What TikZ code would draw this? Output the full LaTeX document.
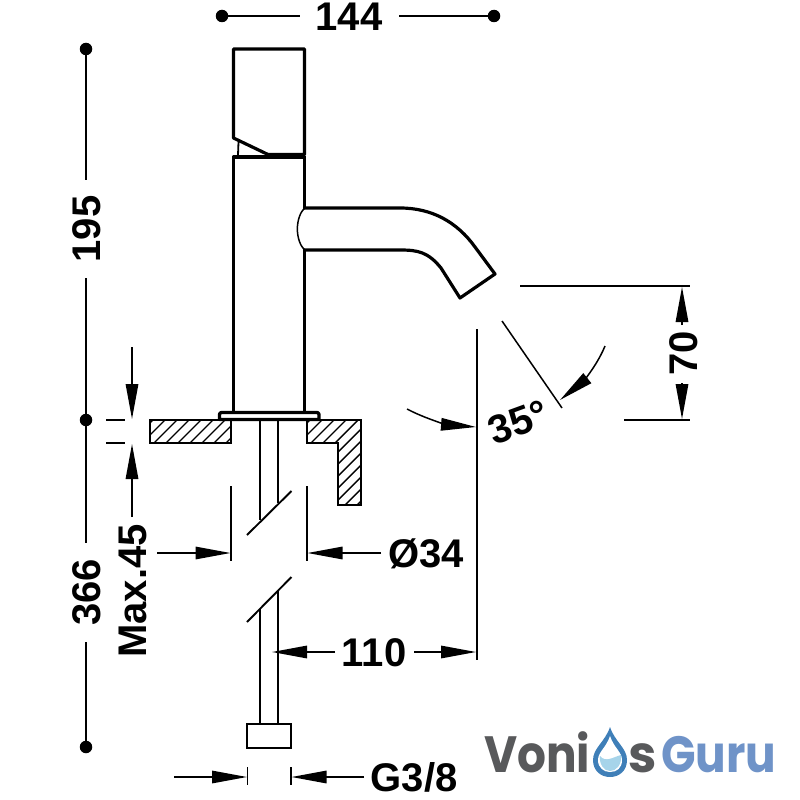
\documentclass[tikz,border=0pt]{standalone}
\usepackage{fontspec}
\setmainfont{Liberation Sans}
\newfontfamily\logofont{Poppins}
\usetikzlibrary{arrows.meta}
\definecolor{logogrey}{HTML}{58595B}
\definecolor{logoblue}{HTML}{6F93C8}
\definecolor{dropblue}{HTML}{3F7FB8}
\definecolor{dropcyan}{HTML}{A6D4EA}
\tikzset{
  x=1pt,y=-1pt,
  heavy/.style={line width=3.2pt,line cap=round,line join=round},
  thin part/.style={line width=1.9pt},
  dimline/.style={line width=1.5pt},
  dimarrow/.style={line width=1.5pt,-{Triangle[length=35pt,width=12.5pt]}},
  dimlabel/.style={font=\bfseries\fontsize{40}{40}\selectfont,inner sep=0pt},
  enddot/.style={circle,fill=black,inner sep=0pt,minimum size=12.5pt},
  outline/.style={draw=black,line width=1.7pt},
  hatchline/.style={line width=1.4pt},
  logotext/.style={inner sep=0pt,anchor=base west,xscale=.89,font=\logofont\bfseries\fontsize{51}{51}\selectfont},
}
\begin{document}
\begin{tikzpicture}
\useasboundingbox (0,0) rectangle (800,800);
% handle
\draw[heavy] (233.5,138) -- (233.5,49) -- (304.5,49) -- (304.5,154.5) -- (268,154.5) -- cycle;
\draw[line width=1.8pt] (238.5,142) -- (238,155);
% body
\draw[heavy] (233.5,412) -- (233.5,157) -- (304.5,157) -- (304.5,208);
\draw[heavy] (304.5,250) -- (304.5,412);
% spout
\draw[heavy] (304.5,208) -- (400,208) .. controls (432,208) and (457,222) .. (475,247) -- (495,274) -- (460,298) -- (441,268) .. controls (428,252) and (418,250) .. (400,250) -- (304.5,250);
\draw[line width=1.5pt] (304.5,208) .. controls (295,218) and (295,240) .. (304.5,250);
% counter
\begin{scope}
\clip (150,420) rectangle (231,443);
\foreach \u in {130,142,...,238} \draw[hatchline] (\u,443) -- (\u+40,403);
\end{scope}
\draw[outline] (150,420) rectangle (231,443);
\begin{scope}
\clip (307,420) -- (361,420) -- (361,505) -- (338,505) -- (338,443) -- (307,443) -- cycle;
\foreach \u in {220,232,...,364} \draw[hatchline] (\u,510) -- (\u+120,390);
\end{scope}
\draw[outline] (307,420) -- (361,420) -- (361,505) -- (338,505) -- (338,443) -- (307,443) -- cycle;
% flange
\draw[heavy,fill=white] (219.5,419.5) -- (219.5,414) -- (221,412.5) -- (317.5,412.5) -- (319,414) -- (319,419.5) -- cycle;
% pipe
\draw[thin part] (260,421) -- (260,520);
\draw[thin part] (278,421) -- (278,503);
\draw[thin part] (247,535) -- (291.5,491);
\draw[thin part] (291.5,577) -- (247,622);
\draw[thin part] (260,609) -- (260,724);
\draw[thin part] (278,591) -- (278,724);
\draw[thin part] (247,724) rectangle (291,748);
% top dimension 144
\node[enddot] (t1) at (222,16) {};
\node[enddot] (t2) at (494,16) {};
\node[dimlabel] (t144) at (349,17) {144};
\draw[dimline] (t1) -- (300,16);
\draw[dimline] (t2) -- (399,16);
% left dimension
\node[enddot] (l1) at (86,49) {};
\node[enddot] (l2) at (86,420) {};
\node[enddot] (l3) at (86,747) {};
\node[dimlabel,rotate=90] (l195) at (87,229) {195};
\node[dimlabel,rotate=90] (l366) at (87,592.5) {366};
\draw[dimline] (l1) -- (86,180);
\draw[dimline] (86,278) -- (l2);
\draw[dimline] (l2) -- (86,543);
\draw[dimline] (86,642) -- (l3);
% max 45
\coordinate (m1) at (132,347);
\coordinate (m2) at (132,419);
\coordinate (m3) at (132,517);
\coordinate (m4) at (132,444);
\draw[dimarrow] (m1) -- (m2);
\draw[dimarrow] (m3) -- (m4);
\draw[dimline] (106,420) -- (125,420);
\draw[dimline] (106,443) -- (125,443);
\node[dimlabel,rotate=90] (mx) at (132.5,591) {Max.45};
% dia 34
\draw[dimline] (231,486) -- (231,561);
\draw[dimline] (307,486) -- (307,561);
\draw[dimarrow] (157,553) -- (230.5,553);
\draw[dimarrow] (381,553) -- (307.5,553);
\node[dimlabel] (d34) at (426,554) {Ø34};
% 110
\draw[dimarrow] (335,652) -- (272,652);
\draw[dimarrow] (414,652) -- (476,652);
\node[dimlabel] (d110) at (374,653) {110};
\draw[dimline] (477,329) -- (477,660);
% 3/8
\draw[dimline] (247.5,767) -- (247.5,785);
\draw[dimline] (291,767) -- (291,785);
\draw[dimarrow] (174,777) -- (247,777);
\draw[dimarrow] (364,777) -- (291.5,777);
\node[dimlabel] (g38) at (414,777) {G3/8};
% 70
\draw[dimline] (520,286) -- (690,286);
\draw[dimline] (624,420) -- (690,420);
\draw[dimarrow] (682,325) -- (682,287);
\draw[dimarrow] (682,383) -- (682,419);
\node[dimlabel,rotate=90] (d70) at (684,353) {70};
% 35 deg
\draw[dimline] (502,321) -- (562,408);
\draw[dimarrow] (605,346) .. controls (596,368) and (580,384) .. (560,400);
\draw[dimarrow] (407,409) .. controls (428,420) and (450,425) .. (476,427);
\node[dimlabel,rotate=20] (d35) at (518,422) {35°};
% logo
\node[logotext,text=logogrey] (v) at (484,772) {Voni};
\node[logotext,text=logogrey,xscale=1.12] (s) at (628,772) {s};
\node[logotext,text=logoblue] (g) at (661,772) {Guru};
\fill[dropblue] (610,727) .. controls (605,742) and (593,748) .. (593,760) .. controls (593,771) and (601,777) .. (610,777) .. controls (619,777) and (627,771) .. (627,760) .. controls (627,748) and (615,742) .. (610,727) -- cycle;
\fill[white] (610,736) .. controls (606,748) and (598,752) .. (598,760) .. controls (598,768) and (604,772) .. (610,772) .. controls (617,772) and (622,768) .. (622,760) .. controls (622,752) and (614,748) .. (610,736) -- cycle;
\fill[dropcyan] (600,756) .. controls (606,763) and (613,757) .. (621,755) .. controls (622,765) and (616,771) .. (610,771) .. controls (604,771) and (599,764) .. (600,756) -- cycle;
\end{tikzpicture}
\end{document}
